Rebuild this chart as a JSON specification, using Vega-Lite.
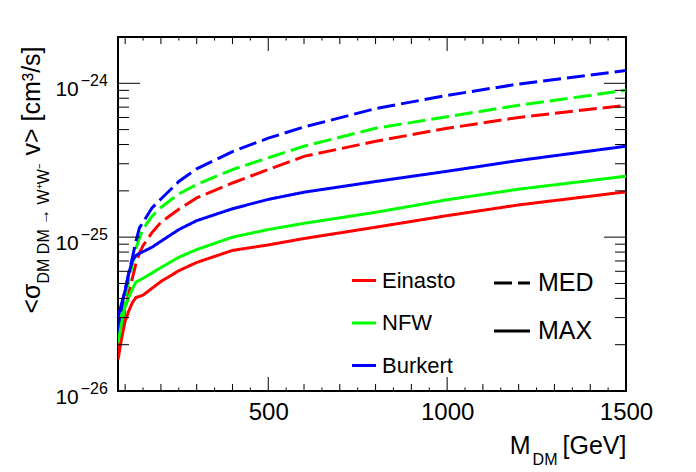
{
  "$schema": "https://vega.github.io/schema/vega-lite/v6.json",
  "width": 508,
  "height": 354,
  "autosize": "none",
  "padding": {"left": 118, "top": 37, "right": 70, "bottom": 81},
  "background": "white",
  "datasets": {
    "curves": [
      {"profile": "Einasto", "halo": "MED", "mass": 80, "sigma": 1.8e-26},
      {"profile": "Einasto", "halo": "MED", "mass": 90, "sigma": 2.55e-26},
      {"profile": "Einasto", "halo": "MED", "mass": 100, "sigma": 3.37e-26},
      {"profile": "Einasto", "halo": "MED", "mass": 110, "sigma": 4.3e-26},
      {"profile": "Einasto", "halo": "MED", "mass": 120, "sigma": 5.4e-26},
      {"profile": "Einasto", "halo": "MED", "mass": 130, "sigma": 6.7e-26},
      {"profile": "Einasto", "halo": "MED", "mass": 140, "sigma": 7.9e-26},
      {"profile": "Einasto", "halo": "MED", "mass": 150, "sigma": 8.8e-26},
      {"profile": "Einasto", "halo": "MED", "mass": 175, "sigma": 1.07e-25},
      {"profile": "Einasto", "halo": "MED", "mass": 200, "sigma": 1.25e-25},
      {"profile": "Einasto", "halo": "MED", "mass": 250, "sigma": 1.52e-25},
      {"profile": "Einasto", "halo": "MED", "mass": 300, "sigma": 1.8e-25},
      {"profile": "Einasto", "halo": "MED", "mass": 400, "sigma": 2.25e-25},
      {"profile": "Einasto", "halo": "MED", "mass": 500, "sigma": 2.75e-25},
      {"profile": "Einasto", "halo": "MED", "mass": 600, "sigma": 3.35e-25},
      {"profile": "Einasto", "halo": "MED", "mass": 800, "sigma": 4.2e-25},
      {"profile": "Einasto", "halo": "MED", "mass": 1000, "sigma": 5.1e-25},
      {"profile": "Einasto", "halo": "MED", "mass": 1200, "sigma": 6.0e-25},
      {"profile": "Einasto", "halo": "MED", "mass": 1500, "sigma": 7.2e-25},
      {"profile": "NFW", "halo": "MED", "mass": 80, "sigma": 2.05e-26},
      {"profile": "NFW", "halo": "MED", "mass": 90, "sigma": 3.1e-26},
      {"profile": "NFW", "halo": "MED", "mass": 100, "sigma": 4.1e-26},
      {"profile": "NFW", "halo": "MED", "mass": 110, "sigma": 5.2e-26},
      {"profile": "NFW", "halo": "MED", "mass": 120, "sigma": 6.6e-26},
      {"profile": "NFW", "halo": "MED", "mass": 130, "sigma": 8.4e-26},
      {"profile": "NFW", "halo": "MED", "mass": 140, "sigma": 9.9e-26},
      {"profile": "NFW", "halo": "MED", "mass": 150, "sigma": 1.13e-25},
      {"profile": "NFW", "halo": "MED", "mass": 175, "sigma": 1.37e-25},
      {"profile": "NFW", "halo": "MED", "mass": 200, "sigma": 1.56e-25},
      {"profile": "NFW", "halo": "MED", "mass": 250, "sigma": 1.91e-25},
      {"profile": "NFW", "halo": "MED", "mass": 300, "sigma": 2.2e-25},
      {"profile": "NFW", "halo": "MED", "mass": 400, "sigma": 2.75e-25},
      {"profile": "NFW", "halo": "MED", "mass": 500, "sigma": 3.28e-25},
      {"profile": "NFW", "halo": "MED", "mass": 600, "sigma": 3.9e-25},
      {"profile": "NFW", "halo": "MED", "mass": 800, "sigma": 5.1e-25},
      {"profile": "NFW", "halo": "MED", "mass": 1000, "sigma": 6.07e-25},
      {"profile": "NFW", "halo": "MED", "mass": 1200, "sigma": 7.2e-25},
      {"profile": "NFW", "halo": "MED", "mass": 1500, "sigma": 9.0e-25},
      {"profile": "Burkert", "halo": "MED", "mass": 80, "sigma": 2.3e-26},
      {"profile": "Burkert", "halo": "MED", "mass": 90, "sigma": 3.5e-26},
      {"profile": "Burkert", "halo": "MED", "mass": 100, "sigma": 4.55e-26},
      {"profile": "Burkert", "halo": "MED", "mass": 110, "sigma": 5.8e-26},
      {"profile": "Burkert", "halo": "MED", "mass": 120, "sigma": 7.3e-26},
      {"profile": "Burkert", "halo": "MED", "mass": 130, "sigma": 9.4e-26},
      {"profile": "Burkert", "halo": "MED", "mass": 140, "sigma": 1.15e-25},
      {"profile": "Burkert", "halo": "MED", "mass": 150, "sigma": 1.25e-25},
      {"profile": "Burkert", "halo": "MED", "mass": 175, "sigma": 1.55e-25},
      {"profile": "Burkert", "halo": "MED", "mass": 200, "sigma": 1.77e-25},
      {"profile": "Burkert", "halo": "MED", "mass": 250, "sigma": 2.3e-25},
      {"profile": "Burkert", "halo": "MED", "mass": 300, "sigma": 2.78e-25},
      {"profile": "Burkert", "halo": "MED", "mass": 400, "sigma": 3.6e-25},
      {"profile": "Burkert", "halo": "MED", "mass": 500, "sigma": 4.4e-25},
      {"profile": "Burkert", "halo": "MED", "mass": 600, "sigma": 5.2e-25},
      {"profile": "Burkert", "halo": "MED", "mass": 800, "sigma": 6.85e-25},
      {"profile": "Burkert", "halo": "MED", "mass": 1000, "sigma": 8.35e-25},
      {"profile": "Burkert", "halo": "MED", "mass": 1200, "sigma": 9.9e-25},
      {"profile": "Burkert", "halo": "MED", "mass": 1500, "sigma": 1.21e-24},
      {"profile": "Einasto", "halo": "MAX", "mass": 80, "sigma": 1.6e-26},
      {"profile": "Einasto", "halo": "MAX", "mass": 90, "sigma": 2.2e-26},
      {"profile": "Einasto", "halo": "MAX", "mass": 100, "sigma": 2.85e-26},
      {"profile": "Einasto", "halo": "MAX", "mass": 110, "sigma": 3.3e-26},
      {"profile": "Einasto", "halo": "MAX", "mass": 120, "sigma": 3.75e-26},
      {"profile": "Einasto", "halo": "MAX", "mass": 130, "sigma": 4.05e-26},
      {"profile": "Einasto", "halo": "MAX", "mass": 140, "sigma": 4.12e-26},
      {"profile": "Einasto", "halo": "MAX", "mass": 150, "sigma": 4.2e-26},
      {"profile": "Einasto", "halo": "MAX", "mass": 175, "sigma": 4.65e-26},
      {"profile": "Einasto", "halo": "MAX", "mass": 200, "sigma": 5.15e-26},
      {"profile": "Einasto", "halo": "MAX", "mass": 250, "sigma": 6.05e-26},
      {"profile": "Einasto", "halo": "MAX", "mass": 300, "sigma": 6.85e-26},
      {"profile": "Einasto", "halo": "MAX", "mass": 400, "sigma": 8.2e-26},
      {"profile": "Einasto", "halo": "MAX", "mass": 500, "sigma": 8.9e-26},
      {"profile": "Einasto", "halo": "MAX", "mass": 600, "sigma": 9.8e-26},
      {"profile": "Einasto", "halo": "MAX", "mass": 800, "sigma": 1.16e-25},
      {"profile": "Einasto", "halo": "MAX", "mass": 1000, "sigma": 1.38e-25},
      {"profile": "Einasto", "halo": "MAX", "mass": 1200, "sigma": 1.62e-25},
      {"profile": "Einasto", "halo": "MAX", "mass": 1500, "sigma": 1.97e-25},
      {"profile": "NFW", "halo": "MAX", "mass": 80, "sigma": 2.05e-26},
      {"profile": "NFW", "halo": "MAX", "mass": 90, "sigma": 2.75e-26},
      {"profile": "NFW", "halo": "MAX", "mass": 100, "sigma": 3.55e-26},
      {"profile": "NFW", "halo": "MAX", "mass": 110, "sigma": 4.05e-26},
      {"profile": "NFW", "halo": "MAX", "mass": 120, "sigma": 4.6e-26},
      {"profile": "NFW", "halo": "MAX", "mass": 130, "sigma": 5.1e-26},
      {"profile": "NFW", "halo": "MAX", "mass": 140, "sigma": 5.25e-26},
      {"profile": "NFW", "halo": "MAX", "mass": 150, "sigma": 5.4e-26},
      {"profile": "NFW", "halo": "MAX", "mass": 175, "sigma": 5.85e-26},
      {"profile": "NFW", "halo": "MAX", "mass": 200, "sigma": 6.35e-26},
      {"profile": "NFW", "halo": "MAX", "mass": 250, "sigma": 7.4e-26},
      {"profile": "NFW", "halo": "MAX", "mass": 300, "sigma": 8.3e-26},
      {"profile": "NFW", "halo": "MAX", "mass": 400, "sigma": 1.0e-25},
      {"profile": "NFW", "halo": "MAX", "mass": 500, "sigma": 1.12e-25},
      {"profile": "NFW", "halo": "MAX", "mass": 600, "sigma": 1.23e-25},
      {"profile": "NFW", "halo": "MAX", "mass": 800, "sigma": 1.45e-25},
      {"profile": "NFW", "halo": "MAX", "mass": 1000, "sigma": 1.75e-25},
      {"profile": "NFW", "halo": "MAX", "mass": 1200, "sigma": 2.05e-25},
      {"profile": "NFW", "halo": "MAX", "mass": 1500, "sigma": 2.49e-25},
      {"profile": "Burkert", "halo": "MAX", "mass": 80, "sigma": 3.0e-26},
      {"profile": "Burkert", "halo": "MAX", "mass": 90, "sigma": 3.7e-26},
      {"profile": "Burkert", "halo": "MAX", "mass": 100, "sigma": 4.5e-26},
      {"profile": "Burkert", "halo": "MAX", "mass": 110, "sigma": 5.8e-26},
      {"profile": "Burkert", "halo": "MAX", "mass": 120, "sigma": 7.0e-26},
      {"profile": "Burkert", "halo": "MAX", "mass": 130, "sigma": 7.6e-26},
      {"profile": "Burkert", "halo": "MAX", "mass": 140, "sigma": 7.85e-26},
      {"profile": "Burkert", "halo": "MAX", "mass": 150, "sigma": 8.05e-26},
      {"profile": "Burkert", "halo": "MAX", "mass": 175, "sigma": 8.6e-26},
      {"profile": "Burkert", "halo": "MAX", "mass": 200, "sigma": 9.4e-26},
      {"profile": "Burkert", "halo": "MAX", "mass": 250, "sigma": 1.12e-25},
      {"profile": "Burkert", "halo": "MAX", "mass": 300, "sigma": 1.28e-25},
      {"profile": "Burkert", "halo": "MAX", "mass": 400, "sigma": 1.53e-25},
      {"profile": "Burkert", "halo": "MAX", "mass": 500, "sigma": 1.76e-25},
      {"profile": "Burkert", "halo": "MAX", "mass": 600, "sigma": 1.96e-25},
      {"profile": "Burkert", "halo": "MAX", "mass": 800, "sigma": 2.3e-25},
      {"profile": "Burkert", "halo": "MAX", "mass": 1000, "sigma": 2.68e-25},
      {"profile": "Burkert", "halo": "MAX", "mass": 1200, "sigma": 3.15e-25},
      {"profile": "Burkert", "halo": "MAX", "mass": 1500, "sigma": 3.9e-25}
    ],
    "xticks": [
      {"value": 100, "level": "mid"}, {"value": 150, "level": "minor"},
      {"value": 200, "level": "mid"}, {"value": 250, "level": "minor"},
      {"value": 300, "level": "mid"}, {"value": 350, "level": "minor"},
      {"value": 400, "level": "mid"}, {"value": 450, "level": "minor"},
      {"value": 500, "level": "major"}, {"value": 550, "level": "minor"},
      {"value": 600, "level": "mid"}, {"value": 650, "level": "minor"},
      {"value": 700, "level": "mid"}, {"value": 750, "level": "minor"},
      {"value": 800, "level": "mid"}, {"value": 850, "level": "minor"},
      {"value": 900, "level": "mid"}, {"value": 950, "level": "minor"},
      {"value": 1000, "level": "major"}, {"value": 1050, "level": "minor"},
      {"value": 1100, "level": "mid"}, {"value": 1150, "level": "minor"},
      {"value": 1200, "level": "mid"}, {"value": 1250, "level": "minor"},
      {"value": 1300, "level": "mid"}, {"value": 1350, "level": "minor"},
      {"value": 1400, "level": "mid"}, {"value": 1450, "level": "minor"}
    ],
    "yticks": [
      {"value": 2e-26, "level": "minor"}, {"value": 3e-26, "level": "minor"},
      {"value": 4e-26, "level": "minor"}, {"value": 5e-26, "level": "minor"},
      {"value": 6e-26, "level": "minor"}, {"value": 7e-26, "level": "minor"},
      {"value": 8e-26, "level": "minor"}, {"value": 9e-26, "level": "minor"},
      {"value": 1e-25, "level": "major"},
      {"value": 2e-25, "level": "minor"}, {"value": 3e-25, "level": "minor"},
      {"value": 4e-25, "level": "minor"}, {"value": 5e-25, "level": "minor"},
      {"value": 6e-25, "level": "minor"}, {"value": 7e-25, "level": "minor"},
      {"value": 8e-25, "level": "minor"}, {"value": 9e-25, "level": "minor"},
      {"value": 1e-24, "level": "major"}
    ]
  },
  "resolve": {"axis": {"x": "independent", "y": "independent"}},
  "layer": [
    {
      "data": {"name": "curves"},
      "mark": {"type": "line", "strokeWidth": 3, "clip": true},
      "encoding": {
        "x": {
          "field": "mass", "type": "quantitative",
          "scale": {"domain": [80, 1500], "nice": false, "zero": false},
          "axis": {
            "orient": "bottom", "values": [500, 1000, 1500], "ticks": false,
            "labelFontSize": 24, "labelPadding": 9, "labelFlush": false, "format": "d",
            "title": "M", "titleFontSize": 25, "titleX": 412, "titleY": 62,
            "titleAlign": "right", "titleBaseline": "alphabetic", "titleAngle": 0
          }
        },
        "y": {
          "field": "sigma", "type": "quantitative",
          "scale": {"type": "log", "domain": [1e-26, 2e-24], "nice": false},
          "axis": {
            "orient": "left", "values": [1e-26, 1e-25, 1e-24], "ticks": false,
            "labelFontSize": 21, "labelPadding": 39.7, "labelOffset": 6,
            "labelExpr": "'10'",
            "title": "<σ", "titleFontSize": 25, "titleX": -79, "titleY": 276,
            "titleAngle": 270, "titleAlign": "left", "titleBaseline": "alphabetic"
          }
        },
        "color": {
          "field": "profile", "type": "nominal",
          "scale": {"domain": ["Einasto", "NFW", "Burkert"], "range": ["#ff0000", "#00ff00", "#0000ff"]},
          "legend": {
            "orient": "none", "legendX": 232.5, "legendY": 230, "title": null, "padding": 0,
            "symbolType": "stroke", "symbolSize": 576, "symbolStrokeWidth": 3,
            "labelFontSize": 22, "labelOffset": 4.5, "rowPadding": 17.5
          }
        },
        "strokeDash": {
          "field": "halo", "type": "nominal",
          "scale": {"domain": ["MED", "MAX"], "range": [[18, 6], [1, 0]]},
          "legend": {
            "orient": "none", "legendX": 374.5, "legendY": 226.5, "title": null, "padding": 0,
            "symbolType": "stroke", "symbolSize": 1296, "symbolStrokeWidth": 3,
            "symbolStrokeColor": "black",
            "labelFontSize": 25, "labelOffset": 6.5, "rowPadding": 15
          }
        }
      }
    },
    {
      "data": {"name": "xticks"},
      "transform": [{"filter": "datum.level == 'major'"}],
      "mark": {"type": "rule", "color": "black", "strokeWidth": 1},
      "encoding": {
        "x": {
          "field": "value", "type": "quantitative",
          "scale": {"domain": [80, 1500], "nice": false, "zero": false},
          "axis": {
            "orient": "bottom", "values": [500], "ticks": false, "labels": false,
            "title": "DM", "titleFontSize": 16, "titleX": 439, "titleY": 73,
            "titleAlign": "right", "titleBaseline": "alphabetic", "titleAngle": 0
          }
        },
        "y": {
          "datum": 1e-26, "type": "quantitative",
          "scale": {"type": "log", "domain": [1e-26, 2e-24], "nice": false},
          "axis": {
            "orient": "left", "values": [1e-26, 1e-25, 1e-24], "ticks": false,
            "labelFontSize": 16, "labelPadding": 10.7, "labelOffset": -3,
            "labelExpr": "datum.value < 5e-26 ? '−26' : datum.value < 5e-25 ? '−25' : '−24'",
            "title": "DM DM → W⁺W⁻", "titleFontSize": 16, "titleX": -70, "titleY": 246,
            "titleAngle": 270, "titleAlign": "left", "titleBaseline": "alphabetic"
          }
        },
        "y2": {"datum": 1.233e-26}
      }
    },
    {
      "data": {"name": "xticks"},
      "transform": [{"filter": "datum.level == 'major'"}],
      "mark": {"type": "rule", "color": "black", "strokeWidth": 1},
      "encoding": {
        "x": {
          "field": "value", "type": "quantitative",
          "scale": {"domain": [80, 1500], "nice": false, "zero": false},
          "axis": {
            "orient": "top", "values": [500], "ticks": false, "labels": false,
            "title": "[GeV]", "titleFontSize": 25, "titleX": 508, "titleY": 416,
            "titleAlign": "right", "titleBaseline": "alphabetic", "titleAngle": 0
          }
        },
        "y": {
          "datum": 2e-24, "type": "quantitative",
          "scale": {"type": "log", "domain": [1e-26, 2e-24], "nice": false},
          "axis": {
            "orient": "right", "values": [1e-25], "ticks": false, "labels": false,
            "title": "v> [cm³/s]", "titleFontSize": 25, "titleX": -587, "titleY": 118,
            "titleAngle": 270, "titleAlign": "left", "titleBaseline": "alphabetic"
          }
        },
        "y2": {"datum": 1.622e-24}
      }
    },
    {
      "data": {"name": "xticks"},
      "transform": [{"filter": "datum.level == 'mid'"}],
      "mark": {"type": "rule", "color": "black", "strokeWidth": 1},
      "encoding": {
        "x": {"field": "value", "type": "quantitative", "scale": {"domain": [80, 1500], "nice": false, "zero": false}, "axis": null},
        "y": {"datum": 1e-26, "type": "quantitative", "scale": {"type": "log", "domain": [1e-26, 2e-24], "nice": false}, "axis": null},
        "y2": {"datum": 1.111e-26}
      }
    },
    {
      "data": {"name": "xticks"},
      "transform": [{"filter": "datum.level == 'minor'"}],
      "mark": {"type": "rule", "color": "black", "strokeWidth": 1},
      "encoding": {
        "x": {"field": "value", "type": "quantitative", "scale": {"domain": [80, 1500], "nice": false, "zero": false}, "axis": null},
        "y": {"datum": 1e-26, "type": "quantitative", "scale": {"type": "log", "domain": [1e-26, 2e-24], "nice": false}, "axis": null},
        "y2": {"datum": 1.054e-26}
      }
    },
    {
      "data": {"name": "xticks"},
      "transform": [{"filter": "datum.level == 'mid'"}],
      "mark": {"type": "rule", "color": "black", "strokeWidth": 1},
      "encoding": {
        "x": {"field": "value", "type": "quantitative", "scale": {"domain": [80, 1500], "nice": false, "zero": false}, "axis": null},
        "y": {"datum": 2e-24, "type": "quantitative", "scale": {"type": "log", "domain": [1e-26, 2e-24], "nice": false}, "axis": null},
        "y2": {"datum": 1.8e-24}
      }
    },
    {
      "data": {"name": "xticks"},
      "transform": [{"filter": "datum.level == 'minor'"}],
      "mark": {"type": "rule", "color": "black", "strokeWidth": 1},
      "encoding": {
        "x": {"field": "value", "type": "quantitative", "scale": {"domain": [80, 1500], "nice": false, "zero": false}, "axis": null},
        "y": {"datum": 2e-24, "type": "quantitative", "scale": {"type": "log", "domain": [1e-26, 2e-24], "nice": false}, "axis": null},
        "y2": {"datum": 1.897e-24}
      }
    },
    {
      "data": {"name": "yticks"},
      "transform": [{"filter": "datum.level == 'major'"}],
      "mark": {"type": "rule", "color": "black", "strokeWidth": 1},
      "encoding": {
        "x": {"datum": 80, "type": "quantitative", "scale": {"domain": [80, 1500], "nice": false, "zero": false}, "axis": null},
        "x2": {"datum": 141.4},
        "y": {"field": "value", "type": "quantitative", "scale": {"type": "log", "domain": [1e-26, 2e-24], "nice": false}, "axis": null}
      }
    },
    {
      "data": {"name": "yticks"},
      "transform": [{"filter": "datum.level == 'minor'"}],
      "mark": {"type": "rule", "color": "black", "strokeWidth": 1},
      "encoding": {
        "x": {"datum": 80, "type": "quantitative", "scale": {"domain": [80, 1500], "nice": false, "zero": false}, "axis": null},
        "x2": {"datum": 110.7},
        "y": {"field": "value", "type": "quantitative", "scale": {"type": "log", "domain": [1e-26, 2e-24], "nice": false}, "axis": null}
      }
    },
    {
      "data": {"name": "yticks"},
      "transform": [{"filter": "datum.level == 'major'"}],
      "mark": {"type": "rule", "color": "black", "strokeWidth": 1},
      "encoding": {
        "x": {"datum": 1438.6, "type": "quantitative", "scale": {"domain": [80, 1500], "nice": false, "zero": false}, "axis": null},
        "x2": {"datum": 1500},
        "y": {"field": "value", "type": "quantitative", "scale": {"type": "log", "domain": [1e-26, 2e-24], "nice": false}, "axis": null}
      }
    },
    {
      "data": {"name": "yticks"},
      "transform": [{"filter": "datum.level == 'minor'"}],
      "mark": {"type": "rule", "color": "black", "strokeWidth": 1},
      "encoding": {
        "x": {"datum": 1469.3, "type": "quantitative", "scale": {"domain": [80, 1500], "nice": false, "zero": false}, "axis": null},
        "x2": {"datum": 1500},
        "y": {"field": "value", "type": "quantitative", "scale": {"type": "log", "domain": [1e-26, 2e-24], "nice": false}, "axis": null}
      }
    }
  ],
  "config": {
    "font": "Liberation Sans",
    "view": {"stroke": "black", "strokeWidth": 2},
    "axis": {
      "domain": false, "grid": false,
      "labelColor": "black", "titleColor": "black", "titleFontWeight": "normal",
      "labelFont": "Liberation Sans", "titleFont": "Liberation Sans"
    },
    "legend": {"labelFont": "Liberation Sans", "labelColor": "black"}
  }
}
